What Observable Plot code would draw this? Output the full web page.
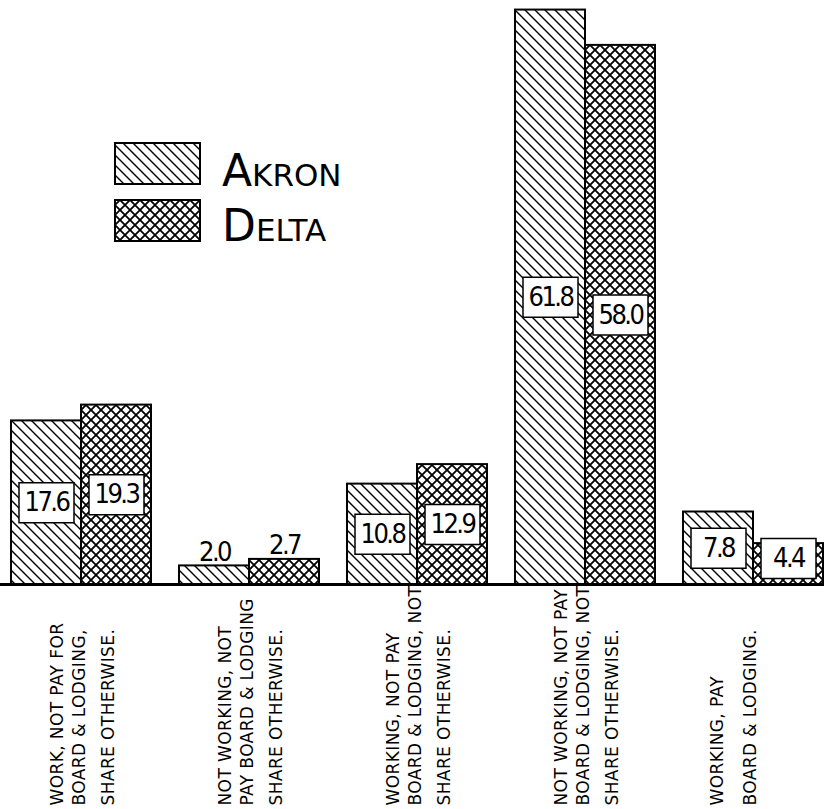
<!DOCTYPE html>
<html>
<head>
<meta charset="utf-8">
<script src="https://cdn.jsdelivr.net/npm/d3@7"></script>
<script src="https://cdn.jsdelivr.net/npm/@observablehq/plot@0.6"></script>
<style>
  html, body { margin: 0; padding: 0; background: #fff; }
  svg { display: block; background: #fff; }
  g[font-size="27"] text { letter-spacing: -2.5px; }
  g[font-size="17"] text { letter-spacing: 0.4px; }
</style>
</head>
<body>
<div id="chart"></div>
<script>
// ---- data ----
const categories = ["A", "B", "C", "D", "E"];
const categoryLines = [
  ["WORK, NOT PAY FOR", "BOARD & LODGING,", "SHARE OTHERWISE."],
  ["NOT WORKING, NOT", "PAY BOARD & LODGING", "SHARE OTHERWISE."],
  ["WORKING, NOT PAY", "BOARD & LODGING, NOT", "SHARE OTHERWISE."],
  ["NOT WORKING, NOT PAY", "BOARD & LODGING, NOT", "SHARE OTHERWISE."],
  ["WORKING, PAY", "BOARD & LODGING."]
];
const series = ["Akron", "Delta"];
const akron = [17.6, 2.0, 10.8, 61.8, 7.8];
const delta = [19.3, 2.7, 12.9, 58.0, 4.4];

// ---- tables built from the arrays ----
const bars = categories.flatMap((c, i) => [
  {cat: c, series: "Akron", value: akron[i]},
  {cat: c, series: "Delta", value: delta[i]}
]);
const labelRows = categories.flatMap((c, i) =>
  categoryLines[i].map((t, j) => ({cat: c, text: t, j, n: categoryLines[i].length})));

const H = 809, W = 824, MT = 4, MB = 225;
const yMax = 62.4;
const pxPerUnit = (H - MT - MB) / yMax;
const boxW = 55, boxH = 40;
const minCenter = (boxH / 2 + 6) / pxPerUnit;
const boxed = bars.filter(d => d.value >= 3);
const plain = bars.filter(d => d.value < 3);
const labelY = d => Math.max(d.value / 2, minCenter);

const boxSymbol = {draw(ctx) { ctx.rect(-boxW / 2, -boxH / 2, boxW, boxH); }};

const offsets3 = [-24, -2, 27];
const offsets2 = [-36, -3];
const catLabelMarks = [];
[3, 2].forEach(n => {
  const offs = n === 3 ? offsets3 : offsets2;
  offs.forEach((dx, j) => {
    catLabelMarks.push(Plot.text(labelRows.filter(d => d.n === n && d.j === j), {
      fx: "cat", text: "text", frameAnchor: "bottom", rotate: -90,
      textAnchor: "start", lineAnchor: "middle", dx, dy: 221,
      fontSize: 17, fontFamily: "DejaVu Sans, sans-serif", fill: "black"
    }));
  });
});

const valueFont = "DejaVu Sans Condensed, DejaVu Sans, sans-serif";

const chart = Plot.plot({
  width: W, height: H,
  marginTop: MT, marginBottom: MB, marginLeft: 10, marginRight: 0,
  fx: {domain: categories, paddingInner: 0.165, paddingOuter: 0, axis: null, label: null},
  x: {domain: series, padding: 0, axis: null},
  y: {domain: [0, yMax], axis: null},
  color: {domain: series, range: ["url(#akronHatch)", "url(#deltaHatch)"]},
  marks: [
    Plot.barY(bars, {fx: "cat", x: "series", y: "value", fill: "series", stroke: "black", strokeWidth: 2}),
    Plot.ruleY([0], {stroke: "black", strokeWidth: 3, insetLeft: -15, insetRight: -15}),
    Plot.dot(boxed, {fx: "cat", x: "series", y: labelY, symbol: boxSymbol, fill: "white", stroke: "black", strokeWidth: 1.5}),
    Plot.text(boxed, {fx: "cat", x: "series", y: labelY, text: d => d.value.toFixed(1),
      fontSize: 27, fontFamily: valueFont, fill: "black", lineAnchor: "middle"}),
    Plot.text(plain, {fx: "cat", x: "series", y: "value", text: d => d.value.toFixed(1), dy: -14,
      fontSize: 27, fontFamily: valueFont, fill: "black", lineAnchor: "middle"}),
    ...catLabelMarks
  ]
});

document.getElementById("chart").appendChild(chart);

// ---- hatch patterns & legend ----
const svg = d3.select(chart);
const defs = svg.insert("defs", ":first-child");
const pa = defs.append("pattern").attr("id", "akronHatch").attr("patternUnits", "userSpaceOnUse")
  .attr("width", 10).attr("height", 10);
pa.append("rect").attr("width", 10).attr("height", 10).attr("fill", "white");
pa.append("path").attr("d", "M-2,-2L12,12M-7,3L7,17M3,-7L17,7").attr("stroke", "black").attr("stroke-width", 1.4);
const pd = defs.append("pattern").attr("id", "deltaHatch").attr("patternUnits", "userSpaceOnUse")
  .attr("width", 10).attr("height", 10);
pd.append("rect").attr("width", 10).attr("height", 10).attr("fill", "white");
pd.append("path").attr("d", "M-2,-2L12,12M12,-2L-2,12").attr("stroke", "black").attr("stroke-width", 1.8);

const legend = svg.append("g").attr("class", "legend");
series.forEach((s, i) => {
  legend.append("rect").attr("x", 115).attr("y", 143 + i * 57).attr("width", 85).attr("height", 41)
    .attr("fill", i === 0 ? "url(#akronHatch)" : "url(#deltaHatch)").attr("stroke", "black").attr("stroke-width", 2);
  legend.append("text").attr("x", 222).attr("y", 186 + i * 55)
    .attr("text-anchor", "start")
    .attr("font-size", 44).attr("font-family", "DejaVu Sans, sans-serif")
    .attr("font-variant", "small-caps").attr("fill", "black").text(s);
});
</script>
</body>
</html>
